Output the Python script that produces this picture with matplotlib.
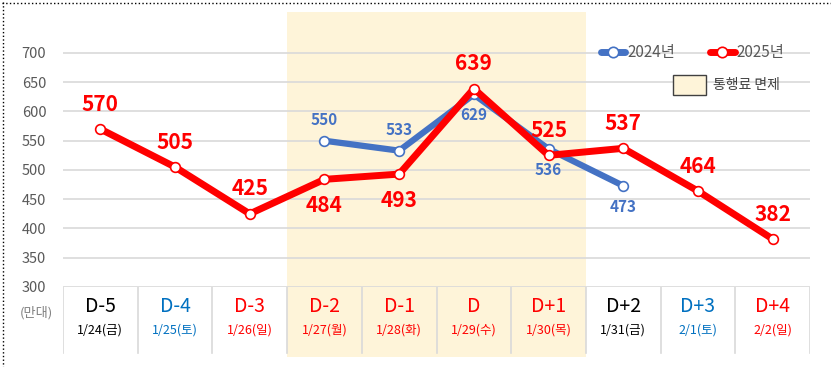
import numpy as np
import matplotlib.pyplot as plt
from matplotlib.lines import Line2D
from matplotlib.patches import Rectangle

plt.rcParams["font.family"] = ["Noto Sans CJK KR", "DejaVu Sans"]

# ---------------- data ----------------
days = ["D-5", "D-4", "D-3", "D-2", "D-1", "D", "D+1", "D+2", "D+3", "D+4"]
dates = ["1/24(금)", "1/25(토)", "1/26(일)", "1/27(월)", "1/28(화)",
         "1/29(수)", "1/30(목)", "1/31(금)", "2/1(토)", "2/2(일)"]
day_colors = ["#000000", "#0070C0", "#FF0000", "#FF0000", "#FF0000",
              "#FF0000", "#FF0000", "#000000", "#0070C0", "#FF0000"]

y2025 = [570, 505, 425, 484, 493, 639, 525, 537, 464, 382]
y2024_idx = [3, 4, 5, 6, 7]
y2024 = [550, 533, 629, 536, 473]

# label placement: +1 above, -1 below
pos2025 = [1, 1, 1, -1, -1, 1, 1, 1, 1, 1]
pos2024 = [1, 1, -1, -1, -1]

free_start, free_end = 3, 6   # 통행료 면제 (D-2 ~ D+1)

BLUE = "#4472C4"
RED = "#FF0000"
SHADE = "#FEF4D9"
GRID = "#D9D9D9"

W, H = 831, 367
fig = plt.figure(figsize=(W / 100, H / 100), dpi=100)


def fx(x):
    return x / W


def fy(y):
    return 1 - y / H


# main axes: pixels x 63..810, y 12..287
ax = fig.add_axes([fx(63), fy(287), fx(810) - fx(63), fy(12) - fy(287)])
ax.set_xlim(-0.5, 9.5)
ax.set_ylim(300, 770)
for s in ax.spines.values():
    s.set_visible(False)

ax.axvspan(free_start - 0.5, free_end + 0.5, color=SHADE, zorder=0, lw=0)

for v in range(350, 701, 50):
    ax.axhline(v, color=GRID, lw=1.2, zorder=1)
ax.axhline(300, color=GRID, lw=1.2, zorder=1)

ax.set_yticks(range(300, 701, 50))
ax.tick_params(axis="y", length=0, labelsize=10.5, labelcolor="#595959", pad=12)
ax.set_xticks([])

x = np.arange(len(days))
ax.plot(y2024_idx, y2024, color=BLUE, lw=4.5, zorder=3,
        marker="o", ms=7, mfc="white", mec=BLUE, mew=1.2)
ax.plot(x, y2025, color=RED, lw=5, zorder=4,
        marker="o", ms=7, mfc="white", mec=RED, mew=1.2)

for i, v in enumerate(y2025):
    off = 18 if pos2025[i] > 0 else -19
    ax.annotate(str(v), (i, v), xytext=(0, off), textcoords="offset points",
                ha="center", va="center", color=RED, fontsize=15,
                fontweight="bold", zorder=5)
for i, v, p in zip(y2024_idx, y2024, pos2024):
    off = 15 if p > 0 else -15
    ax.annotate(str(v), (i, v), xytext=(0, off), textcoords="offset points",
                ha="center", va="center", color=BLUE, fontsize=11,
                fontweight="bold", zorder=5)

# table axes below
tb = fig.add_axes([fx(63), fy(357), fx(810) - fx(63), fy(287) - fy(357)])
tb.set_xlim(-0.5, 9.5)
tb.set_ylim(0, 70)
tb.axis("off")
tb.axvspan(free_start - 0.5, free_end + 0.5, color=SHADE, zorder=0, lw=0)
for b in np.arange(-0.5, 10, 1):
    tb.plot([b, b], [4, 70], color=GRID, lw=1.2, zorder=1)
for i in range(len(days)):
    tb.text(i, 50, days[i], ha="center", va="center", fontsize=14,
            color=day_colors[i])
    tb.text(i, 27, dates[i], ha="center", va="center", fontsize=9,
            color=day_colors[i])

fig.text(fx(36), fy(313), "(만대)", ha="center", va="center",
         fontsize=9.5, color="#808080")

# legend
fig.add_artist(Line2D([fx(601), fx(625)], [fy(52), fy(52)], color=BLUE, lw=5,
                      solid_capstyle="round"))
fig.add_artist(Line2D([fx(613)], [fy(52)], marker="o", ms=7.5, mfc="white",
                      mec=BLUE, mew=1.2, lw=0))
fig.text(fx(627), fy(52), "2024년", ha="left", va="center", fontsize=11,
         color="#595959")
fig.add_artist(Line2D([fx(710), fx(735)], [fy(52), fy(52)], color=RED, lw=5,
                      solid_capstyle="round"))
fig.add_artist(Line2D([fx(722)], [fy(52)], marker="o", ms=7.5, mfc="white",
                      mec=RED, mew=1.2, lw=0))
fig.text(fx(736), fy(52), "2025년", ha="left", va="center", fontsize=11,
         color="#595959")
fig.add_artist(Rectangle((fx(673), fy(95)), fx(706) - fx(673), fy(75) - fy(95),
                         facecolor=SHADE, edgecolor="#404040", lw=1))
fig.text(fx(713), fy(85), "통행료 면제", ha="left", va="center", fontsize=10,
         color="#404040")

# dotted frame
fig.add_artist(Line2D([fx(2), fx(831)], [fy(2.5), fy(2.5)], color="black",
                      lw=1, ls=":"))
fig.add_artist(Line2D([fx(2.5), fx(2.5)], [fy(2), fy(367)], color="black",
                      lw=1, ls=":"))

fig.savefig("out.png", dpi=100)
